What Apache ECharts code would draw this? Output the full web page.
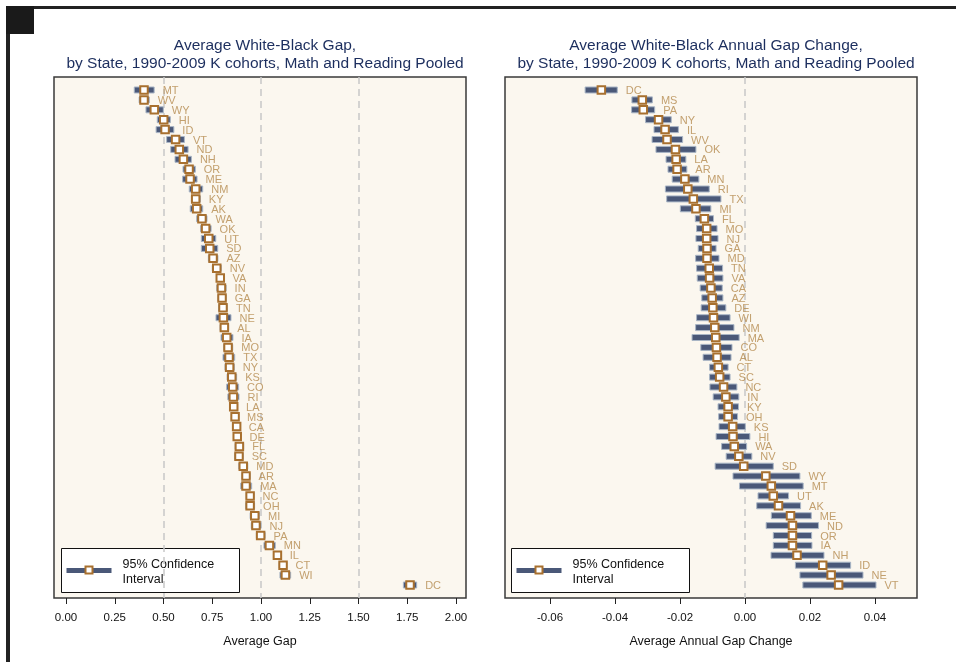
<!DOCTYPE html>
<html><head><meta charset="utf-8">
<script src="https://cdn.jsdelivr.net/npm/echarts@6/dist/echarts.min.js"></script>
<style>html,body{margin:0;padding:0;background:#fff}#c{width:956px;height:662px}</style>
</head><body><div id="c"></div>
<script>
// ---- Left panel: Average White-Black Gap ----
const gapStates = ['MT','WV','WY','HI','ID','VT','ND','NH','OR','ME','NM','KY','AK','WA','OK','UT','SD','AZ','NV','VA','IN','GA','TN','NE','AL','IA','MO','TX','NY','KS','CO','RI','LA','MS','CA','DE','FL','SC','MD','AR','MA','NC','OH','MI','NJ','PA','MN','IL','CT','WI','DC'];
const gapMean = [0.40,0.40,0.453,0.501,0.508,0.562,0.581,0.602,0.631,0.636,0.665,0.665,0.67,0.697,0.716,0.732,0.737,0.754,0.773,0.791,0.797,0.80,0.805,0.807,0.812,0.824,0.831,0.836,0.839,0.85,0.855,0.858,0.86,0.867,0.875,0.878,0.889,0.887,0.909,0.923,0.923,0.944,0.944,0.968,0.974,0.998,1.043,1.084,1.113,1.125,1.764];
const gapLo = [0.35,0.375,0.41,0.468,0.462,0.516,0.537,0.559,0.60,0.598,0.632,0.643,0.637,0.67,0.69,0.694,0.694,0.73,0.75,0.772,0.773,0.779,0.782,0.769,0.79,0.795,0.808,0.805,0.815,0.826,0.824,0.83,0.84,0.848,0.856,0.859,0.867,0.865,0.886,0.902,0.896,0.924,0.922,0.944,0.95,0.976,1.015,1.064,1.093,1.097,1.73];
const gapHi = [0.452,0.427,0.499,0.535,0.553,0.607,0.626,0.643,0.663,0.672,0.701,0.689,0.701,0.723,0.744,0.768,0.778,0.779,0.796,0.81,0.821,0.822,0.828,0.846,0.834,0.856,0.855,0.865,0.863,0.875,0.885,0.887,0.880,0.885,0.894,0.897,0.911,0.909,0.932,0.944,0.952,0.964,0.967,0.992,1.0,1.021,1.073,1.104,1.133,1.152,1.798];
const gapTicks = [0,0.25,0.5,0.75,1.0,1.25,1.5,1.75,2.0];
const gapRefLines = [0.5,1.0,1.5];

// ---- Right panel: Average White-Black Annual Gap Change ----
const chgStates = ['DC','MS','PA','NY','IL','WV','OK','LA','AR','MN','RI','TX','MI','FL','MO','NJ','GA','MD','TN','VA','CA','AZ','DE','WI','NM','MA','CO','AL','CT','SC','NC','IN','KY','OH','KS','HI','WA','NV','SD','WY','MT','UT','AK','ME','ND','OR','IA','NH','ID','NE','VT'];
const chgMean = [-0.0442,-0.0316,-0.0313,-0.0266,-0.0246,-0.024,-0.0214,-0.0212,-0.0209,-0.0185,-0.0176,-0.0159,-0.0151,-0.0125,-0.0118,-0.0118,-0.0117,-0.0117,-0.011,-0.0109,-0.0105,-0.0101,-0.0099,-0.0097,-0.0093,-0.009,-0.0088,-0.0086,-0.0082,-0.0078,-0.0066,-0.0059,-0.0052,-0.0052,-0.0038,-0.0037,-0.0033,-0.0019,-0.0004,0.0064,0.0081,0.0087,0.0103,0.014,0.0146,0.0146,0.0146,0.016,0.0239,0.0265,0.0288];
const chgLo = [-0.0492,-0.0348,-0.0349,-0.0306,-0.028,-0.0286,-0.0274,-0.0243,-0.0237,-0.0224,-0.0245,-0.0241,-0.0199,-0.0153,-0.0149,-0.0151,-0.0144,-0.0152,-0.0149,-0.0147,-0.0138,-0.0133,-0.0135,-0.0149,-0.0152,-0.0163,-0.0136,-0.0129,-0.0109,-0.0109,-0.0108,-0.0098,-0.0083,-0.0081,-0.008,-0.0089,-0.0072,-0.0058,-0.0092,-0.0037,-0.0017,0.004,0.0036,0.0081,0.0065,0.0087,0.0087,0.008,0.0155,0.0169,0.0178];
const chgHi = [-0.0393,-0.0285,-0.0278,-0.0227,-0.0205,-0.0192,-0.0151,-0.0182,-0.0179,-0.0142,-0.011,-0.0074,-0.0105,-0.0097,-0.0086,-0.0083,-0.0089,-0.008,-0.0069,-0.0068,-0.007,-0.0068,-0.0059,-0.0046,-0.0034,-0.0018,-0.004,-0.0043,-0.0052,-0.0046,-0.0025,-0.0019,-0.002,-0.0023,0.0001,0.0015,0.0005,0.0021,0.0087,0.0169,0.0179,0.0134,0.0171,0.0204,0.0226,0.0205,0.0206,0.0243,0.0325,0.0363,0.0403];
const chgTicks = [-0.06,-0.04,-0.02,0.0,0.02,0.04];
const chgRefLines = [0];

const titles = ['Average White-Black Gap,\nby State, 1990-2009 K cohorts, Math and Reading Pooled',
                'Average White-Black Annual Gap Change,\nby State, 1990-2009 K cohorts, Math and Reading Pooled'];
const axisNames = ['Average Gap','Average Annual Gap Change'];
const legendText = '95% Confidence\nInterval';

const FONT = 'Liberation Sans, Arial, Helvetica, sans-serif';
const BAR = '#4A5878', HALO = '#A9B6C6', MK = '#A8702F', LBL = '#B48A4E', TITLE = '#1C2E5E', BG = '#FBF7EF';

function panelSeries(idx, states, mean, lo, hi, refs) {
  const ci = states.map((s, i) => [i + 1, lo[i], hi[i]]);
  const pts = states.map((s, i) => ({ value: [mean[i], i + 1], name: s }));
  const lbs = states.map((s, i) => ({ value: [hi[i], i + 1], name: s }));
  return [
    {
      type: 'custom', xAxisIndex: idx, yAxisIndex: idx, z: 2,
      encode: { x: [1, 2], y: 0 },
      data: ci,
      renderItem: function (params, api) {
        const a = api.coord([api.value(1), api.value(0)]);
        const b = api.coord([api.value(2), api.value(0)]);
        return { type: 'rect', shape: { x: a[0], y: a[1] - 3, width: b[0] - a[0], height: 6 },
                 style: { fill: BAR, stroke: HALO, lineWidth: 1 } };
      },
      markLine: {
        silent: true, symbol: 'none', label: { show: false }, z: 1,
        lineStyle: { color: '#C8C8C8', width: 1.5, type: [7, 5] },
        data: refs.map(v => ({ xAxis: v }))
      }
    },
    {
      type: 'scatter', xAxisIndex: idx, yAxisIndex: idx, z: 3,
      symbol: 'rect', symbolSize: 7.5, data: pts,
      itemStyle: { color: '#fff', borderColor: MK, borderWidth: 2, opacity: 1 }
    },
    {
      type: 'scatter', xAxisIndex: idx, yAxisIndex: idx, z: 4,
      symbolSize: 1, data: lbs, itemStyle: { color: 'rgba(0,0,0,0)' },
      label: { show: true, position: 'right', distance: 8, formatter: p => p.name,
               color: LBL, fontSize: 11, fontFamily: FONT, offset: [0, 1] }
    }
  ];
}

function xAxisDef(idx, min, max, ticks, fmt) {
  return {
    type: 'value', gridIndex: idx, min: min, max: max, position: 'bottom',
    name: axisNames[idx], nameLocation: 'middle', nameGap: 37,
    nameTextStyle: { color: '#111', fontSize: 12.5, fontFamily: FONT },
    axisLine: { show: false, onZero: false },
    axisTick: { show: true, inside: false, length: 6, customValues: ticks, lineStyle: { color: '#222', width: 1 } },
    axisLabel: { show: true, customValues: ticks, formatter: fmt, margin: 14, color: '#111', fontSize: 11.5, fontFamily: FONT },
    splitLine: { show: false }
  };
}

function legendGraphic(x, y) {
  return {
    type: 'group', left: x, top: y, children: [
      { type: 'rect', shape: { x: 0, y: 0, width: 178, height: 44 }, style: { fill: '#fff', stroke: '#111', lineWidth: 1 } },
      { type: 'rect', shape: { x: 5, y: 19.5, width: 45, height: 5 }, style: { fill: BAR } },
      { type: 'rect', shape: { x: 24, y: 18, width: 7, height: 7 }, style: { fill: '#fff', stroke: MK, lineWidth: 2 } },
      { type: 'text', x: 61, y: 9, style: { text: legendText, fill: '#111', font: '12.5px ' + FONT, lineHeight: 15 } }
    ]
  };
}

const chart = echarts.init(document.getElementById('c'), null, { renderer: 'canvas' });
chart.setOption({
  animation: false,
  backgroundColor: '#fff',
  title: [
    { text: titles[0], left: 260, top: 32, textAlign: 'center',
      textStyle: { color: TITLE, fontSize: 15.5, fontWeight: 'normal', fontFamily: FONT, lineHeight: 18 } },
    { text: titles[1], left: 711, top: 32, textAlign: 'center',
      textStyle: { color: TITLE, fontSize: 15.5, fontWeight: 'normal', fontFamily: FONT, lineHeight: 18 } }
  ],
  grid: [
    { left: 54, top: 77, width: 412, height: 521, show: true, backgroundColor: BG, borderColor: '#3a3a3a', borderWidth: 1.5 },
    { left: 505, top: 77, width: 412, height: 521, show: true, backgroundColor: BG, borderColor: '#3a3a3a', borderWidth: 1.5 }
  ],
  xAxis: [
    xAxisDef(0, -0.0615, 2.051, gapTicks, v => v.toFixed(2)),
    xAxisDef(1, -0.07385, 0.05292, chgTicks, v => v.toFixed(2))
  ],
  yAxis: [
    { type: 'value', gridIndex: 0, inverse: true, min: -0.313, max: 52.313, show: false },
    { type: 'value', gridIndex: 1, inverse: true, min: -0.313, max: 52.313, show: false }
  ],
  series: [].concat(
    panelSeries(0, gapStates, gapMean, gapLo, gapHi, gapRefLines),
    panelSeries(1, chgStates, chgMean, chgLo, chgHi, chgRefLines)
  ),
  graphic: [
    { type: 'rect', left: 6, top: 6, shape: { width: 950, height: 3 }, style: { fill: '#222' } },
    { type: 'rect', left: 6, top: 6, shape: { width: 4, height: 656 }, style: { fill: '#222' } },
    { type: 'rect', left: 6, top: 6, shape: { width: 28, height: 28 }, style: { fill: '#1a1a1a' } },
    legendGraphic(61, 548),
    legendGraphic(511, 548)
  ]
});
</script>
</body></html>
